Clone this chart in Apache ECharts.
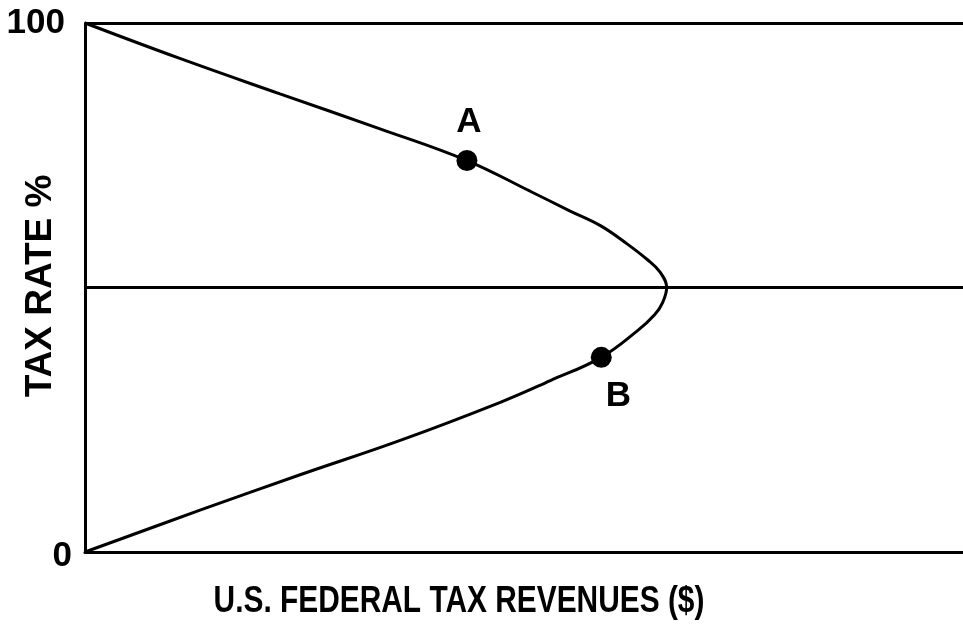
<!DOCTYPE html>
<html>
<head>
<meta charset="utf-8">
<script src="https://cdn.jsdelivr.net/npm/echarts@6/dist/echarts.min.js"></script>
<style>html,body{margin:0;padding:0;background:#fff}#c{width:963px;height:624px}</style>
</head>
<body>
<div id="c"></div>
<script>
// Laffer curve: revenue (x) vs tax rate (y), ordered from 100% down to 0%
const curveRevenue = [0, 10.8, 22.2, 33.6, 43.5, 50.7, 55.2, 58.7, 61.7, 64.1, 65.5, 66.25, 65.8, 64.9, 62.9, 58.8, 53.0, 47.3, 35.9, 24.5, 13.1, 0];
const curveRate    = [100, 93.3, 86.6, 80.0, 74.0, 68.2, 64.5, 61.7, 58.3, 55.2, 52.9, 50.0, 47.2, 44.9, 41.8, 36.8, 32.4, 28.3, 21.1, 14.6, 7.9, 0];
const pointNames   = ['A', 'B'];
const pointRevenue = [43.5, 58.8];
const pointRate    = [74.0, 36.8];
const yTickLabels  = ['0', '100'];
const xAxisTitle   = 'U.S. FEDERAL TAX REVENUES ($)';
const yAxisTitle   = 'TAX RATE %';

const font = '"Liberation Sans", Arial, sans-serif';
const labelOffsets = [[2, -38], [17, 39]];

const chart = echarts.init(document.getElementById('c'), null, {renderer: 'canvas'});
chart.setOption({
  animation: false,
  backgroundColor: '#fff',
  grid: {left: 85, right: 0, top: 23, bottom: 72, containLabel: false},
  xAxis: {
    type: 'value', min: 0, max: 100,
    axisLine: {show: true, lineStyle: {color: '#000', width: 3}},
    axisTick: {show: false}, axisLabel: {show: false}, splitLine: {show: false}
  },
  yAxis: {
    type: 'value', min: 0, max: 100, interval: 50,
    axisLine: {show: true, lineStyle: {color: '#000', width: 3}},
    axisTick: {show: false},
    splitLine: {show: true, lineStyle: {color: '#000', width: 3}},
    axisLabel: {
      margin: 13,
      formatter: function (v) {
        if (v === 0) return '{z|' + yTickLabels[0] + '}';
        if (v === 100) return '{h|' + yTickLabels[1] + '}';
        return '';
      },
      rich: {
        z: {fontFamily: font, fontWeight: 'bold', fontSize: 35, color: '#000', padding: [8, 0, 0, 0]},
        h: {fontFamily: font, fontWeight: 'bold', fontSize: 35, color: '#000', padding: [0, 7, 0, 0]}
      }
    }
  },
  graphic: [
    {type: 'text', x: 459, y: 602, scaleX: 0.83, style: {text: xAxisTitle, font: 'bold 36px "Liberation Sans", Arial, sans-serif', fill: '#000', align: 'center', verticalAlign: 'middle'}},
    {type: 'text', x: 40.5, y: 286, rotation: Math.PI / 2, style: {text: yAxisTitle, font: 'bold 37px "Liberation Sans", Arial, sans-serif', fill: '#000', align: 'center', verticalAlign: 'middle'}}
  ],
  series: [
    {
      type: 'line',
      data: curveRevenue.map((x, i) => [x, curveRate[i]]),
      smooth: 0.4,
      showSymbol: false,
      lineStyle: {color: '#000', width: 3},
      z: 3
    },
    {
      type: 'scatter',
      symbolSize: 21,
      itemStyle: {color: '#000', opacity: 1},
      data: pointNames.map((n, i) => ({
        name: n,
        value: [pointRevenue[i], pointRate[i]],
        label: {
          show: true, position: 'inside', offset: labelOffsets[i],
          formatter: n, color: '#000', fontFamily: font, fontWeight: 'bold', fontSize: 35
        }
      })),
      z: 5
    }
  ]
});
</script>
</body>
</html>
